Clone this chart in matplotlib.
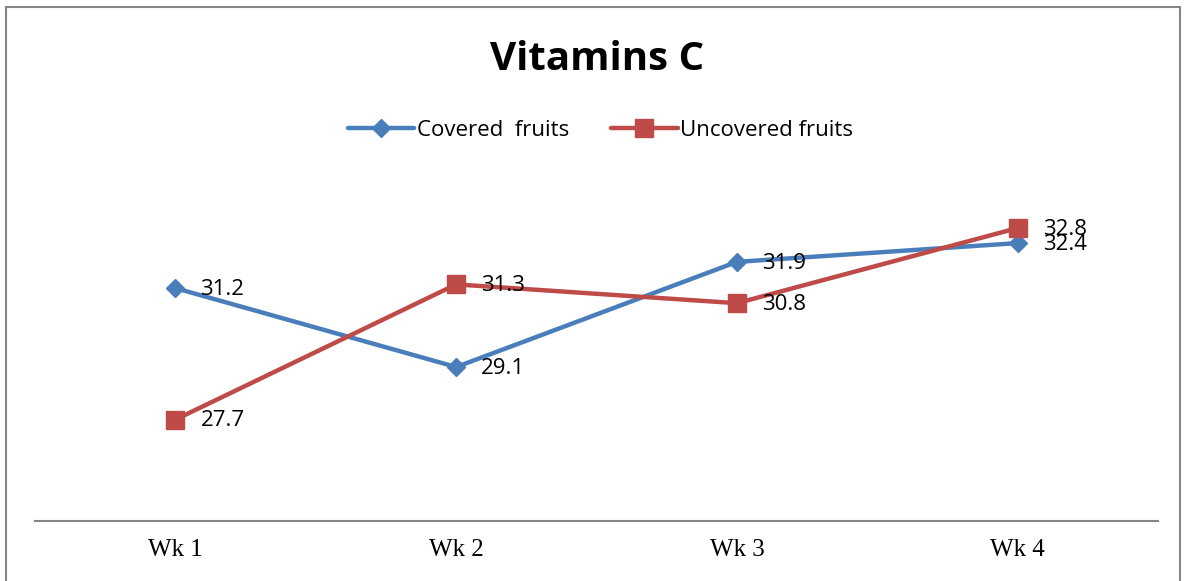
import matplotlib.pyplot as plt
from matplotlib.patches import Rectangle

weeks = ['Wk 1', 'Wk 2', 'Wk 3', 'Wk 4']
covered = [31.2, 29.1, 31.9, 32.4]
uncovered = [27.7, 31.3, 30.8, 32.8]

blue = '#4A7EBB'
red = '#BE4B48'
sans = ['Open Sans', 'DejaVu Sans']

fig = plt.figure(figsize=(11.84, 5.81), dpi=100)
ax = fig.add_axes([35/1184, 1 - 521/581, (1158 - 35)/1184, (521 - 183)/581])

x = range(len(weeks))
ax.plot(x, covered, color=blue, lw=3.2, marker='D', markersize=9,
        label='Covered  fruits', solid_capstyle='round')
ax.plot(x, uncovered, color=red, lw=3.2, marker='s', markersize=13,
        label='Uncovered fruits', solid_capstyle='round')

# data labels to the right of each point
for xi, v in zip(x, covered):
    ax.annotate(f'{v}', (xi, v), xytext=(18, -1), textcoords='offset points',
                va='center', ha='left', fontsize=16, family=sans)
for xi, v in zip(x, uncovered):
    ax.annotate(f'{v}', (xi, v), xytext=(18, -1), textcoords='offset points',
                va='center', ha='left', fontsize=16, family=sans)

ax.set_xlim(-0.5, 3.5)
ax.set_ylim(25, 34)
ax.set_xticks(list(x))
ax.set_xticklabels(weeks, family='Liberation Serif', fontsize=18)
ax.tick_params(axis='x', length=0, pad=13)
ax.set_yticks([])
for s in ['top', 'left', 'right']:
    ax.spines[s].set_visible(False)
ax.spines['bottom'].set_color('#868686')
ax.spines['bottom'].set_linewidth(1.5)

fig.text(0.504, 1 - 60/581, 'Vitamins C', ha='center', va='center',
         fontsize=29, fontweight='bold', family=sans)

fig.legend(loc='center', bbox_to_anchor=(0.507, 1 - 130/581), ncol=2,
           frameon=False, prop={'family': sans, 'size': 16},
           handlelength=3.0, handletextpad=0.1, columnspacing=1.9)

# chart border
fig.patches.append(Rectangle((6/1184, -0.1), (1180 - 6)/1184, 1.1 - 7/581,
                             transform=fig.transFigure, fill=False,
                             edgecolor='#868686', lw=1.5))

fig.savefig('out.png', dpi=100)
